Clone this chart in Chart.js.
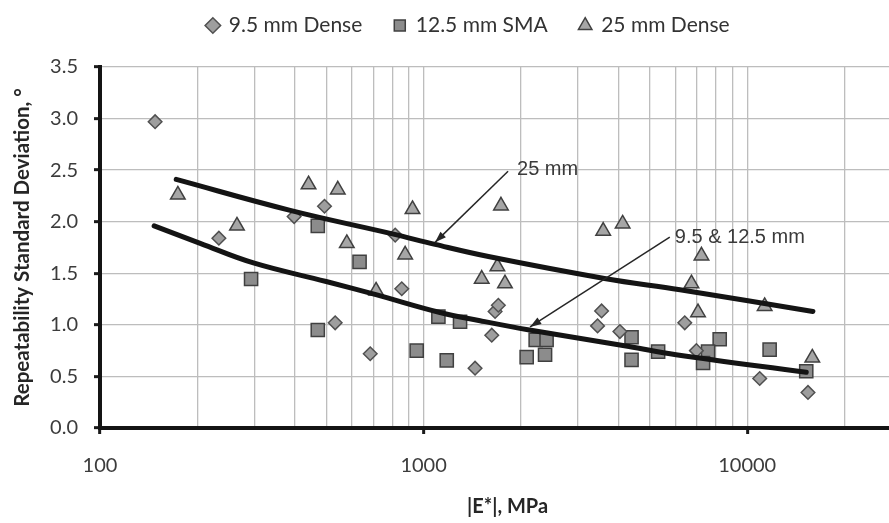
<!DOCTYPE html>
<html>
<head>
<meta charset="utf-8">
<script src="https://cdn.jsdelivr.net/npm/chart.js@4/dist/chart.umd.min.js"></script>
<style>
  html, body { margin: 0; padding: 0; background: #fff; overflow: hidden; }
  #wrap { width: 935px; height: 523px; position: relative; }
</style>
</head>
<body>
<div id="wrap"><canvas id="chart"></canvas></div>
<script>
// Dynamic modulus |E*| (MPa) and repeatability standard deviation (degrees)
const dense95E  = [148, 233, 398, 494, 533, 684, 817, 856, 1442, 1624, 1663, 1702, 3448, 3548, 4042, 6412, 6966, 10930, 15410];
const dense95SD = [2.97, 1.84, 2.05, 2.15, 1.02, 0.72, 1.87, 1.35, 0.58, 0.90, 1.13, 1.19, 0.99, 1.135, 0.935, 1.02, 0.75, 0.48, 0.345];

const sma125E  = [293, 471, 634, 471, 952, 1111, 1296, 1179, 2082, 2220, 2399, 2373, 4391, 4391, 5305, 8222, 7568, 7305, 11730, 15220];
const sma125SD = [1.445, 1.96, 1.61, 0.95, 0.75, 1.08, 1.03, 0.655, 0.687, 0.855, 0.855, 0.71, 0.88, 0.66, 0.74, 0.86, 0.74, 0.63, 0.76, 0.55];

const dense25E  = [174, 265, 441, 543, 579, 713, 924, 877, 1512, 1734, 1690, 1784, 3589, 4121, 7222, 6725, 7047, 11320, 15890];
const dense25SD = [2.26, 1.96, 2.36, 2.31, 1.79, 1.33, 2.12, 1.68, 1.445, 2.155, 1.565, 1.40, 1.91, 1.98, 1.67, 1.40, 1.12, 1.18, 0.68];

// Trend curves
const trend25E  = [172, 387, 807, 1085, 1600, 3623, 6200, 15960];
const trend25SD = [2.41, 2.11, 1.88, 1.78, 1.66, 1.45, 1.34, 1.13];
const trendFineE  = [147, 204, 298, 500, 717, 1124, 1494, 2124, 4312, 6027, 15220];
const trendFineSD = [1.96, 1.79, 1.60, 1.42, 1.29, 1.12, 1.04, 0.95, 0.79, 0.71, 0.54];

const seriesNames = ['9.5 mm Dense', '12.5 mm SMA', '25 mm Dense'];

// Axis ticks
const eGridTicks = [100, 200, 300, 400, 500, 600, 700, 800, 900,
                    1000, 2000, 3000, 4000, 5000, 6000, 7000, 8000, 9000,
                    10000, 20000, 30000];
const eLabelTicks = [100, 1000, 10000];
const eMin = 100, eMax = 33000;
const sdMin = 0, sdMax = 3.5, sdStep = 0.5;

// Callout labels with arrows pointing to the trend curves (data units)
const callouts = [
  { text: '25 mm',         label: [1944, 2.51], tail: [1824, 2.49], tip: [1085, 1.80] },
  { text: '9.5 & 12.5 mm', label: [5973, 1.85], tail: [5765, 1.85], tip: [2132, 0.98] }
];

const pairs = (xs, ys) => xs.map((x, i) => ({ x: x, y: ys[i] }));

const calloutPlugin = {
  id: 'callouts',
  afterDatasetsDraw(chart) {
    const { ctx, scales: { x, y } } = chart;
    ctx.save();
    callouts.forEach(c => {
      const tx = x.getPixelForValue(c.tail[0]), ty = y.getPixelForValue(c.tail[1]);
      const px = x.getPixelForValue(c.tip[0]),  py = y.getPixelForValue(c.tip[1]);
      ctx.strokeStyle = '#262626';
      ctx.fillStyle = '#262626';
      ctx.lineWidth = 1.5;
      ctx.beginPath();
      ctx.moveTo(tx, ty);
      ctx.lineTo(px, py);
      ctx.stroke();
      const a = Math.atan2(py - ty, px - tx);
      const len = 12, spread = 0.33;
      ctx.beginPath();
      ctx.moveTo(px, py);
      ctx.lineTo(px - len * Math.cos(a - spread), py - len * Math.sin(a - spread));
      ctx.lineTo(px - len * Math.cos(a + spread), py - len * Math.sin(a + spread));
      ctx.closePath();
      ctx.fill();
      ctx.font = '20px "Liberation Sans", Arial, sans-serif';
      ctx.fillStyle = '#3a3a3a';
      ctx.textAlign = 'left';
      ctx.textBaseline = 'middle';
      ctx.fillText(c.text, x.getPixelForValue(c.label[0]), y.getPixelForValue(c.label[1]));
    });
    ctx.restore();
  }
};

// Places the legend row above the plot
const legendPlacement = {
  id: 'legendPlacement',
  afterLayout(chart) {
    const lg = chart.legend;
    if (!lg) return;
    const dx = 11, dy = -21;
    lg.left += dx; lg.right += dx;
    lg.top += dy; lg.bottom += dy;
  }
};

new Chart(document.getElementById('chart'), {
  type: 'scatter',
  data: {
    datasets: [
      {
        label: seriesNames[0],
        data: pairs(dense95E, dense95SD),
        pointStyle: 'rectRot',
        pointRadius: 6.8,
        backgroundColor: '#9e9e9e',
        borderColor: '#505050',
        borderWidth: 1.5,
        order: 1
      },
      {
        label: seriesNames[1],
        data: pairs(sma125E, sma125SD),
        pointStyle: 'rect',
        pointRadius: 9.3,
        backgroundColor: '#8c8c8c',
        borderColor: '#404040',
        borderWidth: 1.5,
        order: 1
      },
      {
        label: seriesNames[2],
        data: pairs(dense25E, dense25SD),
        pointStyle: 'triangle',
        pointRadius: 8.4,
        backgroundColor: '#a6a6a6',
        borderColor: '#404040',
        borderWidth: 1.5,
        order: 1
      },
      {
        type: 'line',
        label: 'trend 25',
        data: pairs(trend25E, trend25SD),
        borderColor: '#141414',
        borderWidth: 5,
        borderCapStyle: 'round',
        pointRadius: 0,
        tension: 0.4,
        fill: false,
        order: 0
      },
      {
        type: 'line',
        label: 'trend fine',
        data: pairs(trendFineE, trendFineSD),
        borderColor: '#141414',
        borderWidth: 5,
        borderCapStyle: 'round',
        pointRadius: 0,
        tension: 0.4,
        fill: false,
        order: 0
      }
    ]
  },
  options: {
    responsive: true,
    maintainAspectRatio: false,
    devicePixelRatio: 1,
    animation: false,
    events: [],
    layout: { padding: { top: 4, left: 0, right: 20, bottom: 0 } },
    plugins: {
      tooltip: { enabled: false },
      legend: {
        position: 'top',
        labels: {
          usePointStyle: true,
          boxWidth: 11,
          boxHeight: 11,
          padding: 32,
          color: '#333333',
          font: { family: 'Lato', size: 21 },
          filter: item => item.datasetIndex < 3
        }
      }
    },
    scales: {
      x: {
        type: 'logarithmic',
        min: eMin,
        max: eMax,
        afterBuildTicks(scale) {
          scale.ticks = eGridTicks.map(v => ({ value: v, major: eLabelTicks.includes(v) }));
        },
        afterFit(scale) { scale.height = 95; },
        ticks: {
          autoSkip: false,
          maxRotation: 0,
          minRotation: 0,
          padding: 20,
          color: '#3c3c3c',
          font: { family: 'Lato', size: 20 },
          callback: v => eLabelTicks.includes(v) ? String(v) : ''
        },
        grid: {
          color: '#bdbdbd',
          lineWidth: 1.3,
          tickLength: 6,
          tickWidth: 3,
          tickColor: c => (c.tick && eLabelTicks.includes(c.tick.value)) ? '#1a1a1a' : 'rgba(0,0,0,0)'
        },
        border: { display: true, color: '#141414', width: 4 },
        title: {
          display: true,
          text: '|E*|, MPa',
          color: '#262626',
          font: { family: 'Lato', size: 20, weight: 'bold' },
          padding: { top: 0, bottom: 4 }
        }
      },
      y: {
        min: sdMin,
        max: sdMax,
        afterFit(scale) { scale.width = 100; },
        ticks: {
          stepSize: sdStep,
          padding: 16,
          color: '#3c3c3c',
          font: { family: 'Lato', size: 20 },
          callback: v => Number(v).toFixed(1)
        },
        grid: {
          color: '#bdbdbd',
          lineWidth: 1.3,
          tickLength: 6,
          tickWidth: 3,
          tickColor: '#1a1a1a'
        },
        border: { display: true, color: '#141414', width: 4 },
        title: {
          display: true,
          text: 'Repeatability Standard Deviation, °',
          color: '#262626',
          font: { family: 'Lato', size: 20.5, weight: 'bold' },
          padding: { top: 10, bottom: 0 }
        }
      }
    }
  },
  plugins: [calloutPlugin, legendPlacement]
});
</script>
</body>
</html>
